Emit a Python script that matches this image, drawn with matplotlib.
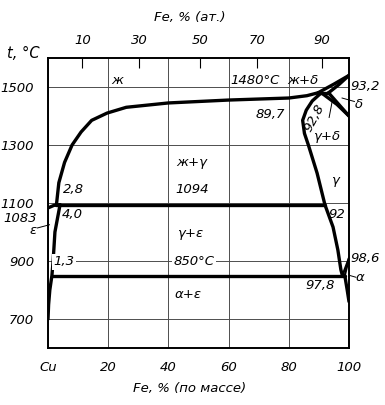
import numpy as np
import matplotlib
matplotlib.use("Agg")
from matplotlib import pyplot as plt

# phase boundaries, Fe wt% / temperature C
liq_x = [2.8, 3.6, 5.5, 8.0, 11.0, 14.5, 19.6, 26.0, 40.0, 60.0, 80.0, 86.0, 89.7]
liq_t = [1094, 1170, 1240, 1300, 1345, 1385, 1410, 1430, 1445, 1455, 1462, 1470, 1480]

dliq_x = [89.7, 95.0, 100.0]
dliq_t = [1480, 1510, 1540]
dsol_x = [93.2, 96.6, 100.0]
dsol_t = [1480, 1508, 1540]
dsolv_x = [93.2, 100.0]
dsolv_t = [1480, 1400]
gd_x = [90.8, 96.0, 100.0]
gd_t = [1480, 1440, 1400]
perit_x = [89.7, 93.2]
perit_t = [1480, 1480]

gam_x = [90.8, 87.8, 85.8, 84.6, 85.2, 86.5, 89.4, 92.0, 94.7, 96.3, 97.3, 97.8]
gam_t = [1480, 1452, 1420, 1385, 1340, 1300, 1203, 1094, 1017, 938, 870, 850]

eps_sol_x = [0.0, 2.0, 4.0]
eps_sol_t = [1083, 1092, 1094]
eps_solv_x = [4.0, 3.2, 2.3, 1.7, 1.3, 0.6, 0.2, 0.0]
eps_solv_t = [1094, 1050, 1000, 900, 850, 800, 750, 700]

alpha_x = [98.6, 99.4, 100.0]
alpha_t = [850, 800, 760]
ag1_x = [97.8, 100.0]
ag1_t = [850, 910]
ag2_x = [98.6, 100.0]
ag2_t = [850, 910]

p1094_x = [2.8, 92.0]
p1094_t = [1094, 1094]
e850_x = [1.3, 98.6]
e850_t = [850, 850]

wt_ticks = [0, 20, 40, 60, 80, 100]
wt_labels = ["Cu", "20", "40", "60", "80", "100"]
t_ticks = [700, 900, 1100, 1300, 1500]
at_pos = [11.4, 30.3, 50.5, 69.4, 91.1]
at_labels = ["10", "30", "50", "70", "90"]

FS = 9.5
fnt = dict(fontsize=FS, style="italic", family="DejaVu Sans")

fig = plt.figure(figsize=(3.85, 4.05), dpi=100)
ax = fig.add_axes([0.1247, 0.1407, 0.7818, 0.7161])
ax.set_xlim(0, 100)
ax.set_ylim(600, 1600)

ax.set_xticks(wt_ticks)
ax.set_xticklabels(wt_labels, **fnt)
ax.set_yticks(t_ticks)
ax.set_yticklabels([str(t) for t in t_ticks], **fnt)
ax.tick_params(axis="both", length=0)
ax.tick_params(axis="x", pad=9)
ax.tick_params(axis="y", pad=10)
ax.grid(True, color="0.3", lw=0.7)
ax.set_axisbelow(True)
for s in ax.spines.values():
    s.set_linewidth(1.4)

ax2 = ax.twiny()
ax2.set_xlim(0, 100)
ax2.set_xticks(at_pos)
ax2.set_xticklabels(at_labels, **fnt)
ax2.tick_params(axis="x", direction="in", length=7, width=0.8, pad=8)
for s in ax2.spines.values():
    s.set_visible(False)

lw = 2.4
kw = dict(color="black", lw=lw, solid_capstyle="round", solid_joinstyle="round", zorder=3)
for xs, ts in [(liq_x, liq_t), (dliq_x, dliq_t), (dsol_x, dsol_t), (dsolv_x, dsolv_t),
               (gd_x, gd_t), (perit_x, perit_t), (gam_x, gam_t), (eps_sol_x, eps_sol_t),
               (eps_solv_x, eps_solv_t), (alpha_x, alpha_t), (p1094_x, p1094_t),
               (e850_x, e850_t)]:
    ax.plot(xs, ts, **kw)
ax.plot(ag1_x, ag1_t, color="black", lw=1.6, zorder=3)
ax.plot(ag2_x, ag2_t, color="black", lw=1.6, zorder=3)

def lab(x, y, s, **k):
    d = dict(fnt)
    d.update(ha="center", va="center", clip_on=False)
    d.update(k)
    ax.text(x, y, s, **d)

wb = dict(facecolor="white", edgecolor="none", pad=1.0)
lab(23, 1524, "ж")
lab(68.8, 1524, "1480°C")
lab(84.8, 1524, "ж+δ")
lab(105.3, 1500, "93,2")
lab(103.2, 1438, "δ")
lab(73.8, 1405, "89,7")
lab(88.6, 1392, "92,8", rotation=62)
lab(92.7, 1328, "γ+δ")
lab(47.8, 1241, "ж+γ")
lab(47.8, 1147, "1094")
lab(47.3, 996, "γ+ε")
lab(48.5, 897, "850°C", bbox=wb)
lab(46.7, 783, "α+ε")
lab(95.3, 1179, "γ")
lab(96.0, 1059, "92")
lab(105.5, 910, "98,6")
lab(103.8, 842, "α")
lab(90.5, 817, "97,8")
lab(8.3, 1147, "2,8")
lab(8.0, 1059, "4,0")
lab(-5.0, 1004, "ε")
lab(5.2, 897, "1,3", bbox=wb)
lab(-3.7, 1045, "1083", ha="right")

# leader lines
thin = dict(color="black", lw=0.7, clip_on=False)
ax.plot([-3.5, 0.5], [1014, 1025], **thin)
ax.plot([97.7, 101.8], [1462, 1450], **thin)
ax.plot([100.3, 102.3], [850, 844], **thin)
ax.plot([93.4, 94.4], [1395, 1450], **thin)

ax.text(0.47, 1.138, "Fe, % (ат.)", transform=ax.transAxes, ha="center", va="center", **fnt)
ax.text(0.47, -0.138, "Fe, % (по массе)", transform=ax.transAxes, ha="center", va="center", **fnt)
ax.text(-0.136, 1.014, "t, °C", transform=ax.transAxes, ha="left", va="center",
        fontsize=10.5, style="italic", family="DejaVu Sans")

fig.savefig("out.png", dpi=100)
